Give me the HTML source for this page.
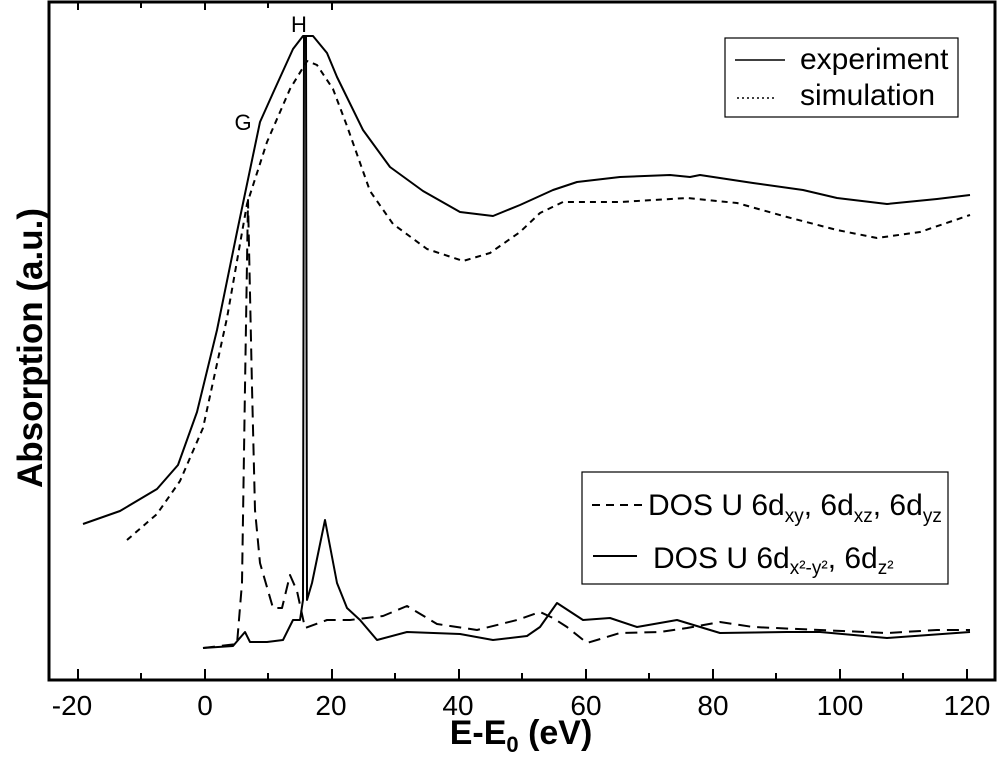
<!DOCTYPE html>
<html><head><style>body{margin:0;background:#fff}svg{display:block}</style></head><body>
<svg width="1000" height="781" viewBox="0 0 1000 781" font-family="Liberation Sans, sans-serif">
<rect x="49" y="2" width="946" height="678" fill="none" stroke="#000" stroke-width="3"/>
<g stroke="#000" stroke-width="2">
<line x1="78" y1="680" x2="78" y2="669"/><line x1="141" y1="680" x2="141" y2="673"/>
<line x1="205" y1="680" x2="205" y2="669"/><line x1="268" y1="680" x2="268" y2="673"/>
<line x1="332" y1="680" x2="332" y2="669"/><line x1="395" y1="680" x2="395" y2="673"/>
<line x1="459" y1="680" x2="459" y2="669"/><line x1="522" y1="680" x2="522" y2="673"/>
<line x1="586" y1="680" x2="586" y2="669"/><line x1="649" y1="680" x2="649" y2="673"/>
<line x1="713" y1="680" x2="713" y2="669"/><line x1="776" y1="680" x2="776" y2="673"/>
<line x1="840" y1="680" x2="840" y2="669"/><line x1="903" y1="680" x2="903" y2="673"/>
<line x1="967" y1="680" x2="967" y2="669"/>
<line x1="78" y1="2" x2="78" y2="10"/><line x1="141" y1="2" x2="141" y2="8"/><line x1="205" y1="2" x2="205" y2="10"/><line x1="268" y1="2" x2="268" y2="8"/><line x1="332" y1="2" x2="332" y2="10"/>
</g>
<g font-size="28" text-anchor="middle">
<text x="72" y="715">-20</text><text x="205" y="715">0</text><text x="331" y="715">20</text><text x="458" y="715">40</text><text x="586" y="715">60</text><text x="713" y="715">80</text><text x="840" y="715">100</text><text x="967" y="715">120</text>
</g>
<text x="521" y="744" font-size="34" font-weight="bold" text-anchor="middle">E-E<tspan font-size="22" dy="8">0</tspan><tspan dy="-8"> (eV)</tspan></text>
<text transform="translate(42,348) rotate(-90)" font-size="35" font-weight="bold" text-anchor="middle">Absorption (a.u.)</text>
<text x="243" y="130" font-size="22" text-anchor="middle">G</text>
<text x="299" y="32" font-size="22" text-anchor="middle">H</text>
<g fill="none" stroke="#000" stroke-width="2" stroke-linejoin="round">
<polyline points="83,524 120,511 157,489 178,465 197,412 217,330 237,232 260,122 273,93 293,49 303,36 313,36 327,53 337,77 363,130 390,167 423,191 460,212 493,216 520,205 553,190 577,182 620,177 670,175 690,177 700,175 753,183 803,190 837,198 887,204 937,199 970,195"/>
<polyline stroke-dasharray="6,5" points="127,540 157,514 180,481 203,428 227,318 247,204 267,142 290,89 307,61 317,65 333,89 347,126 370,191 393,224 427,249 463,261 490,253 520,232 540,213 563,202 620,202 687,198 737,203 787,217 837,230 877,238 920,232 970,215"/>
<polyline stroke-dasharray="12,7" points="203,648 237,644 242,583 245,387 248,200 252,387 255,510 260,563 273,608 282,608 290,575 297,591 305,628 327,620 350,620 383,616 407,606 437,624 477,630 517,620 540,612 553,618 567,627 587,643 620,633 660,632 687,628 720,622 753,627 820,630 887,633 937,630 970,630"/>
<polyline points="203,648 233,646 245,632 250,642 267,642 283,640 293,620 300,620 303,600 304,36 306,36 307,600 312,583 325,520 337,583 347,608 360,620 377,640 407,632 460,634 493,640 527,636 540,627 557,603 583,620 610,618 637,627 677,620 720,633 787,632 820,632 887,638 970,632"/>
</g>
<rect x="725" y="38" width="233" height="79" fill="#fff" stroke="#000" stroke-width="1.2"/>
<line x1="735" y1="60" x2="785" y2="60" stroke="#000" stroke-width="1.5"/>
<line x1="737" y1="98" x2="777" y2="98" stroke="#000" stroke-width="1.5" stroke-dasharray="2,3"/>
<text x="800" y="69" font-size="30">experiment</text>
<text x="800" y="105" font-size="30">simulation</text>
<rect x="582" y="472" width="366" height="112" fill="#fff" stroke="#000" stroke-width="1.2"/>
<line x1="592" y1="505" x2="645" y2="505" stroke="#000" stroke-width="2" stroke-dasharray="8,6"/>
<line x1="593" y1="556" x2="637" y2="556" stroke="#000" stroke-width="2"/>
<text x="648" y="515" font-size="30">DOS U 6d<tspan font-size="19" dy="7">xy</tspan><tspan dy="-7">, 6d</tspan><tspan font-size="19" dy="7">xz</tspan><tspan dy="-7">, 6d</tspan><tspan font-size="19" dy="7">yz</tspan></text>
<text x="653" y="568" font-size="30">DOS U 6d<tspan font-size="19" dy="6">x²-y²</tspan><tspan dy="-6">, 6d</tspan><tspan font-size="19" dy="6">z²</tspan></text>
</svg>
</body></html>
